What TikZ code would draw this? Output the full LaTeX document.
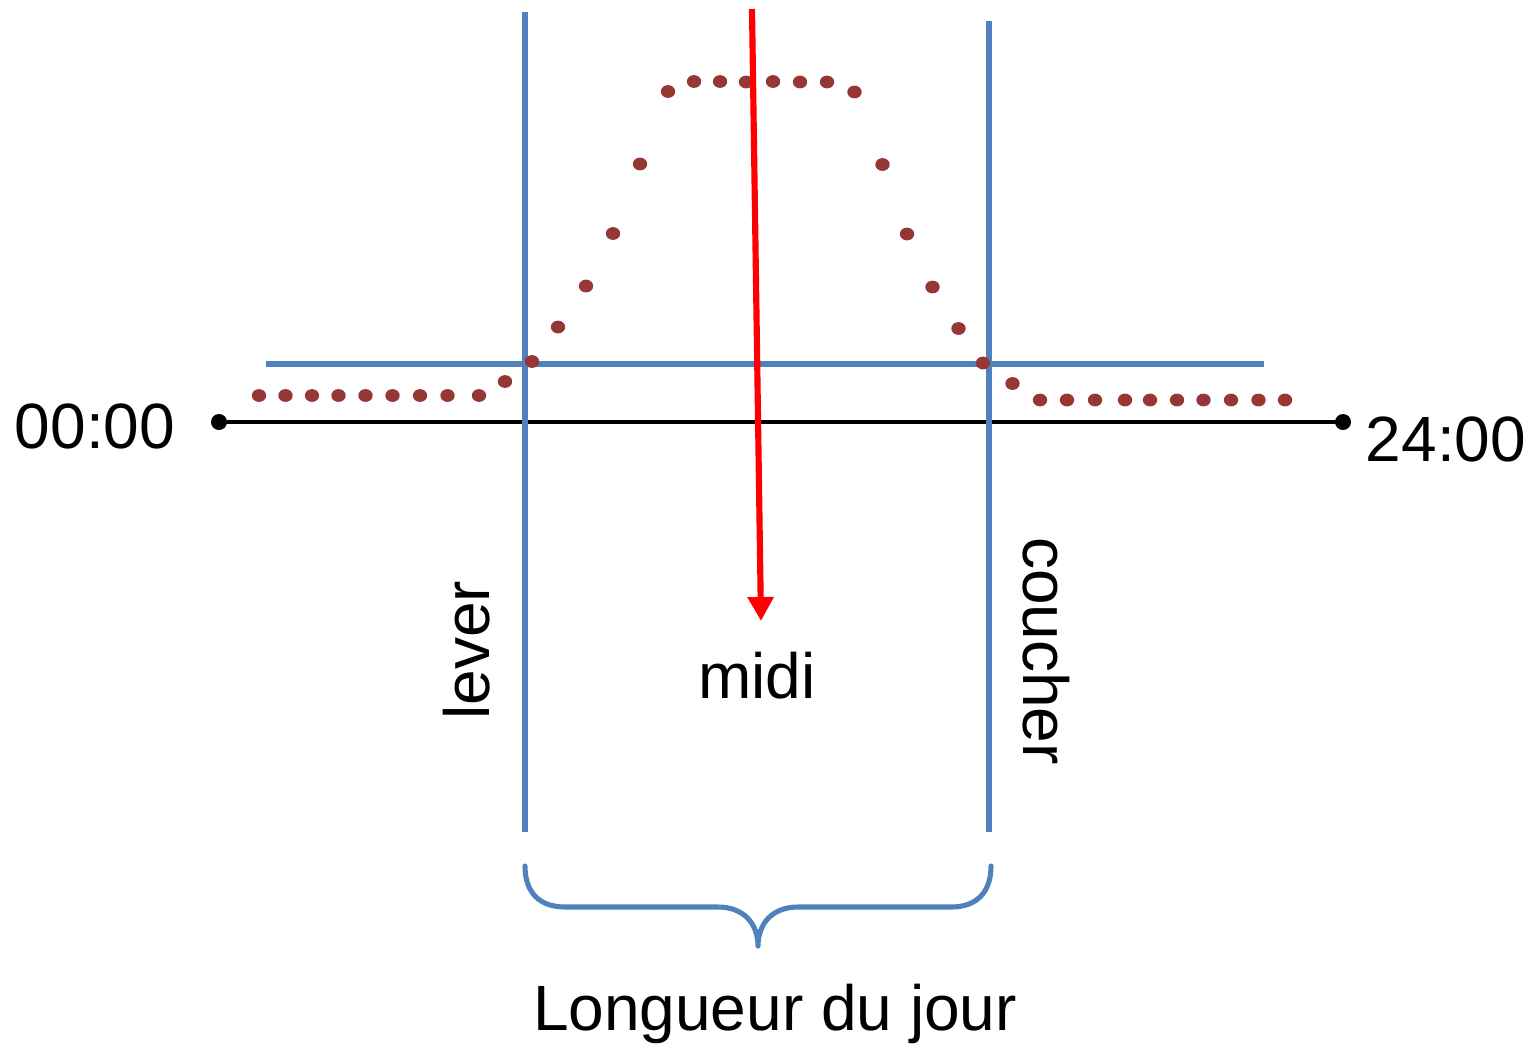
\documentclass[tikz,border=0pt]{standalone}
\usepackage{fontspec}
\setmainfont{Liberation Sans}
\usetikzlibrary{arrows.meta}
\definecolor{bluec}{HTML}{4F81BD}
\definecolor{dotc}{HTML}{953735}
\definecolor{redc}{HTML}{FF0000}
\begin{document}
\begin{tikzpicture}[x=0.01cm,y=-0.01cm,
  lbl/.style={font=\fontsize{18.2}{22}\selectfont,inner sep=0pt},
  blueline/.style={draw=bluec,line width=1.45pt},
  endpt/.style={circle,fill=black,inner sep=0pt,minimum size=0.16cm},
  sdot/.style={fill=dotc}]
\useasboundingbox (0,0) rectangle (1533,1047);
% axis
\node[endpt] (s) at (219,422) {};
\node[endpt] (e) at (1343,422) {};
\draw[line width=1.15pt] (s.center) -- (e.center);
% blue lines
\coordinate (hl) at (266,364);
\coordinate (hr) at (1264,364);
\draw[blueline] (hl) -- (hr);
\coordinate (lt) at (525,12);
\coordinate (lb) at (525,832);
\draw[blueline] (lt) -- (lb);
\coordinate (ct) at (989,21);
\coordinate (cb) at (989,832);
\draw[blueline] (ct) -- (cb);
% dots
\foreach \x/\y in {259/395.5,285.5/395.5,312/395.5,338.5/395.5,365.5/395.5,392.5/395.5,420/395.5,447.5/395.5,479/395.5,
  505/381.5,532/361.5,558/327,586/286,613/233.5,640/164,668/91.5,694/81.5,720/81.5,746/82,773/81.5,800/82,827/82,854.5/92,
  882.5/164.5,907/234,932.5/287,958.5/328.5,983/363,1012.5/383.5,1040/400,1067/400,1095/400,1125/400,1150/400,1177/400,1203.5/400,1231/400,1258.5/400,1285/400}
  \fill[sdot] (\x,\y) ellipse[x radius=0.072cm,y radius=0.064cm];
% red arrow
\coordinate (rtop) at (752,9);
\coordinate (rtip) at (761,621);
\draw[redc,line width=1.75pt,-{Triangle[length=0.24cm,width=0.25cm]}] (rtop) -- (rtip);
% brace
\coordinate (bl) at (525,866);
\coordinate (br) at (991,866);
\draw[blueline,line cap=round,line join=round] (bl) .. controls (525,893) and (540,907) .. (565,907) -- (718,907)
  .. controls (745,907) and (758,925) .. (758,946)
  .. controls (758,925) and (771,907) .. (798,907) -- (951,907)
  .. controls (976,907) and (991,893) .. (br);
% labels
\node[lbl,anchor=base] (t0) at (95,448) {00:00};
\node[lbl,anchor=base] (t24) at (1446,461) {24:00};
\node[lbl,anchor=base] (midi) at (757,698) {midi};
\node[lbl,anchor=base,rotate=90] (lever) at (489,650) {lever};
\node[lbl,anchor=base,rotate=-90] (couch) at (1023,651) {coucher};
\node[lbl,anchor=base] (long) at (775,1030) {Longueur du jour};
\end{tikzpicture}
\end{document}
